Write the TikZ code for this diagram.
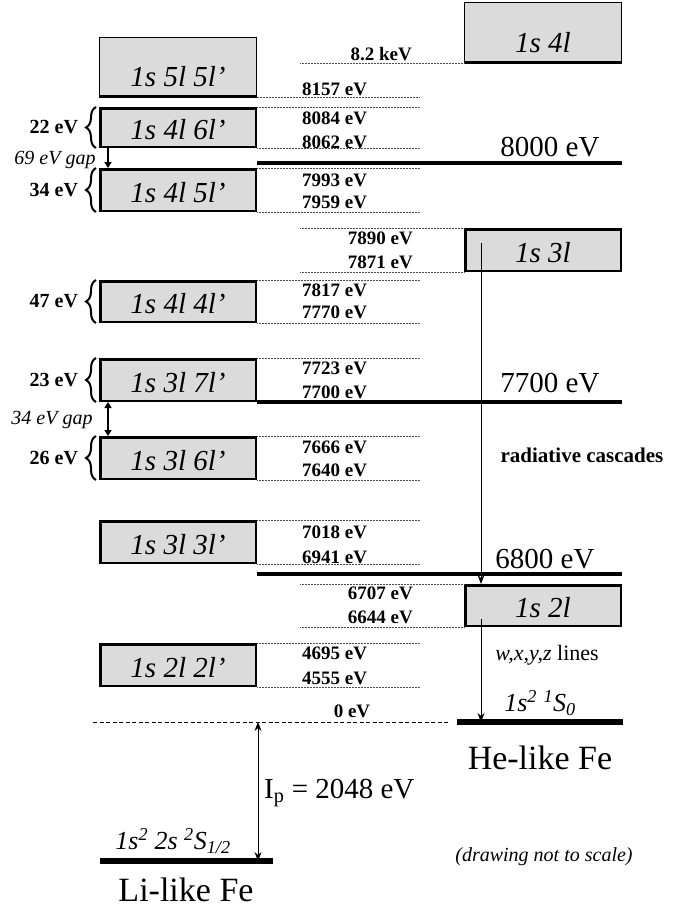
\documentclass[tikz,border=0pt]{standalone}
\usepackage{fontspec}
\setmainfont{Liberation Serif}
\usetikzlibrary{arrows.meta,decorations.pathreplacing}

\newcommand\evfont{\fontsize{19}{19}\selectfont\bfseries}
\newcommand\cfgfont{\fontsize{29}{29}\selectfont\itshape}
\newcommand\bigfont{\fontsize{29}{29}\selectfont}
\newcommand\ionfont{\fontsize{34}{34}\selectfont}

\begin{document}
\begin{tikzpicture}[
  x=1pt, y=-1pt,
  >=Stealth,
  cfg box/.style   = {draw=black, line width=2.5pt, fill=gray!28, minimum width=155.5,
                      inner sep=0pt, font=\cfgfont, text height=24pt, text depth=0pt},
  flat box/.style  = {cfg box, line width=0.8pt, minimum width=157, text height=39pt},
  lvl dots/.style  = {draw=black!70, line width=0.6pt, dash pattern=on 0.6pt off 0.9pt},
  main lvl/.style  = {draw=black, line width=3.5pt},
  ground/.style    = {draw=black, line width=5.5pt},
  ev/.style        = {inner sep=0pt, font=\evfont},
  big ev/.style    = {inner sep=0pt, font=\bigfont},
  spread/.style    = {draw=black, line width=2pt, decoration={brace, amplitude=10pt}, decorate},
  spread lbl/.style= {left=17pt, inner sep=0pt, font=\fontsize{20}{20}\selectfont\bfseries},
  gap/.style       = {draw=black, line width=1.6pt},
  gap lbl/.style   = {inner sep=0pt, font=\fontsize{20}{20}\selectfont\itshape},
  cascade/.style   = {draw=black, line width=0.9pt, -{Stealth[length=9pt, width=7pt]}},
]

\useasboundingbox (0,0) rectangle (694,910);

% ── Li-like doubly excited configurations (left column) ─────────────────────
\node[flat box, minimum height=59]  (b551) at (178,67)    {1s 5l 5l’};
\node[cfg box,  minimum height=38.5] (b461) at (178,127.5) {1s 4l 6l’};
\node[cfg box,  minimum height=41.5] (b451) at (178,190)   {1s 4l 5l’};
\node[cfg box,  minimum height=40.5] (b441) at (178,301.5) {1s 4l 4l’};
\node[cfg box,  minimum height=41.5] (b371) at (178,380)   {1s 3l 7l’};
\node[cfg box,  minimum height=41.5] (b361) at (178,458)   {1s 3l 6l’};
\node[cfg box,  minimum height=41.5] (b331) at (178,542)   {1s 3l 3l’};
\node[cfg box,  minimum height=41.5] (b221) at (178,665)   {1s 2l 2l’};
\draw[line width=3pt] (b551.south west) -- (b551.south east);

% ── He-like singly excited levels (right column) ──────────────────────────
\node[flat box, minimum height=60]  (r4) at (543,32.5)  {1s 4l};
\node[cfg box,  minimum height=41.5] (r3) at (543,250)   {1s 3l};
\node[cfg box,  minimum height=40.5] (r2) at (543,605.5) {1s 2l};
\draw[line width=3pt] (r4.south west) -- (r4.south east);

% ── Dotted energy levels ───────────────────────────────────────────────────
\coordinate (lvl end)   at (420,0);
\coordinate (rlvl start) at (300,0);

\draw[lvl dots] (b551.south east) -- (b551.south east -| lvl end);
\foreach \b in {b461,b451,b441,b371,b361,b331,b221} {
  \draw[lvl dots] (\b.north east) -- (\b.north east -| lvl end);
  \draw[lvl dots] (\b.south east) -- (\b.south east -| lvl end);
}
\draw[lvl dots] (r4.south west -| rlvl start) -- (r4.south west);
\foreach \b in {r3,r2} {
  \draw[lvl dots] (\b.north west -| rlvl start) -- (\b.north west);
  \draw[lvl dots] (\b.south west -| rlvl start) -- (\b.south west);
}

% left group labels sit on the dotted lines
\foreach \y/\e in {89/8157, 118/8084, 142/8062, 180/7993, 202/7959,
                   290/7817, 312/7770, 368/7723, 392/7700, 447/7666,
                   470/7640, 532/7018, 557/6941, 653/4695, 678/4555}
  \node[ev, anchor=west] (ev\e) at (302,\y) {\e\ eV};

% right group labels
\node[ev, anchor=east] (ev82) at (412,54) {8.2 keV};
\foreach \y/\e in {238/7890, 262/7871, 593/6707, 617/6644}
  \node[ev, anchor=east] (ev\e) at (413,\y) {\e\ eV};

% ── Reference energies ─────────────────────────────────────────────────────
\coordinate (e8000) at (257,163);
\coordinate (e7700) at (257,402);
\coordinate (e6800) at (257,574);
\draw[main lvl] (e8000) -- (e8000 -| r4.east);
\draw[main lvl] (e7700) -- (e7700 -| r4.east);
\draw[main lvl] (e6800) -- (e6800 -| r4.east);
\node[big ev] (t8000) at (550,147) {8000 eV};
\node[big ev] (t7700) at (550,383) {7700 eV};
\node[big ev] (t6800) at (545,559) {6800 eV};

% ── Braces and gaps ────────────────────────────────────────────────────────
\draw[spread] ([xshift=-3pt]b461.south west) -- node[spread lbl] {22 eV} ([xshift=-3pt]b461.north west);
\draw[spread] ([xshift=-3pt]b451.south west) -- node[spread lbl] {34 eV} ([xshift=-3pt]b451.north west);
\draw[spread] ([xshift=-3pt]b441.south west) -- node[spread lbl] {47 eV} ([xshift=-3pt]b441.north west);
\draw[spread] ([xshift=-3pt]b371.south west) -- node[spread lbl] {23 eV} ([xshift=-3pt]b371.north west);
\draw[spread] ([xshift=-3pt]b361.south west) -- node[spread lbl] {26 eV} ([xshift=-3pt]b361.north west);

\draw[gap, -{Triangle[length=6pt, width=7pt]}]
  ([xshift=9pt]b461.south west) -- ([xshift=9pt]b451.north west);
\node[gap lbl] (gap69) at (55,160) {69 eV gap};

\draw[gap, {Triangle[length=6pt, width=7pt]}-{Triangle[length=6pt, width=7pt]}]
  ([xshift=9pt]b371.south west) -- ([xshift=9pt]b361.north west);
\node[gap lbl] (gap34) at (52,420) {34 eV gap};

% ── Ground levels ──────────────────────────────────────────────────────────
\coordinate (zero l) at (93,722);
\coordinate (zero r) at (450,722);
\draw[dashed, line width=0.8pt, dash pattern=on 4pt off 2.5pt] (zero l) -- (zero r);
\node[ev] (ev0) at (352,711) {0 eV};

\coordinate (he l) at (457,722);
\coordinate (he r) at (623,722);
\draw[ground] (he l) -- (he r);
\coordinate (li l) at (100,861);
\coordinate (li r) at (273,861);
\draw[ground] (li l) -- (li r);

\node[font=\fontsize{26}{26}\selectfont\itshape, inner sep=0pt] (he gs) at (540,703)
  {1s\textsuperscript{2} \textsuperscript{1}S\textsubscript{0}};
\node[font=\fontsize{26}{26}\selectfont\itshape, inner sep=0pt] (li gs) at (173,841)
  {1s\textsuperscript{2} 2s \textsuperscript{2}S\textsubscript{1/2}};
\node[font=\ionfont, inner sep=0pt] (he name) at (540,758) {He-like Fe};
\node[font=\ionfont, inner sep=0pt] (li name) at (186,890) {Li-like Fe};

% ── Transitions ────────────────────────────────────────────────────────────
\coordinate (casc top) at (481,243);
\draw[cascade] (casc top) -- (casc top |- r2.north);
\node[font=\fontsize{21}{21}\selectfont\bfseries, inner sep=0pt] (casc lbl) at (582,455) {radiative cascades};

\coordinate (wxyz top) at (481,619);
\draw[cascade] (wxyz top) -- (wxyz top |- he l);
\node[font=\fontsize{22}{22}\selectfont, inner sep=0pt] (wxyz lbl) at (547,655) {\textit{w,x,y,z} lines};

\coordinate (ip top) at (258,722);
\draw[line width=0.9pt, {Stealth[length=9pt, width=7pt]}-{Stealth[length=9pt, width=7pt]}]
  (ip top) -- (ip top |- li l);
\node[font=\bigfont, inner sep=0pt, anchor=west] (ip lbl) at (264,793) {I\textsubscript{p} = 2048 eV};

\node[font=\fontsize{20}{20}\selectfont\itshape, inner sep=0pt] (note) at (544,857) {(drawing not to scale)};

\end{tikzpicture}
\end{document}
